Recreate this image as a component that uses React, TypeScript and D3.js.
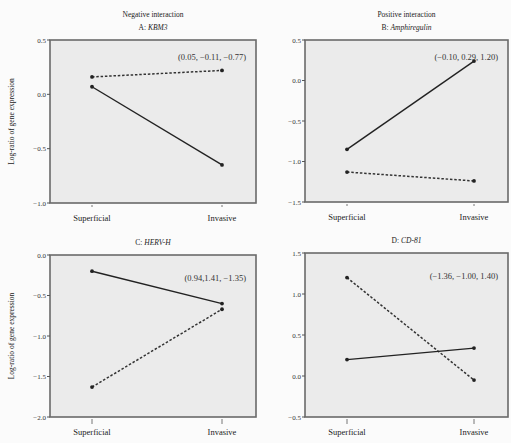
import React from "react";
import * as d3 from "d3";

const categories = ["Superficial", "Invasive"];
const panelTitles = [
  ["Negative interaction", "A: ", "KBM3"],
  ["Positive interaction", "B: ", "Amphiregulin"],
  ["", "C: ", "HERV-H"],
  ["", "D: ", "CD-81"],
];
const annotations = [
  "(0.05, \u22120.11, \u22120.77)",
  "(\u22120.10, 0.29, 1.20)",
  "(0.94,1.41, \u22121.35)",
  "(\u22121.36, \u22121.00, 1.40)",
];
const yDomains: [number, number][] = [
  [-1.0, 0.5],
  [-1.5, 0.5],
  [-2.0, 0.0],
  [-0.5, 1.5],
];
const yTickValues = [
  [-1.0, -0.5, 0.0, 0.5],
  [-1.5, -1.0, -0.5, 0.0, 0.5],
  [-2.0, -1.5, -1.0, -0.5, 0.0],
  [-0.5, 0.0, 0.5, 1.0, 1.5],
];
const solidSeries = [
  [0.07, -0.65],
  [-0.85, 0.24],
  [-0.2, -0.6],
  [0.2, 0.34],
];
const dashedSeries = [
  [0.16, 0.22],
  [-1.13, -1.24],
  [-1.63, -0.67],
  [1.2, -0.05],
];

const boxes = [
  { x: 50, y: 40, w: 206, h: 163 },
  { x: 305, y: 40, w: 203, h: 162 },
  { x: 50, y: 255, w: 206, h: 162 },
  { x: 305, y: 253, w: 203, h: 164 },
];

const fmt = (v: number) => (v < 0 ? "\u2212" : "") + Math.abs(v).toFixed(1);

function Panel({ i }: { i: number }) {
  const b = boxes[i];
  const x = d3
    .scalePoint<string>()
    .domain(categories)
    .range([b.x + 42, b.x + b.w - 34]);
  const y = d3.scaleLinear().domain(yDomains[i]).range([b.y + b.h, b.y]);
  const line = d3
    .line<number>()
    .x((_, k) => x(categories[k]) as number)
    .y((d) => y(d));
  const [t1, prefix, gene] = panelTitles[i];
  const cx = b.x + b.w / 2;
  const isLeft = i % 2 === 0;
  const top = i < 2;
  return (
    <g>
      <rect x={b.x} y={b.y} width={b.w} height={b.h} fill="#ebebeb" stroke="#6a6a6a" strokeWidth={1.6} />
      {t1 && (
        <text x={cx} y={b.y - 23} textAnchor="middle" fontSize={7.5} fill="#222">
          {t1}
        </text>
      )}
      <text x={cx} y={b.y - 10} textAnchor="middle" fontSize={7.5} fill="#222">
        {prefix}
        <tspan fontStyle="italic">{gene}</tspan>
      </text>
      {yTickValues[i].map((t) => (
        <g key={t}>
          <line x1={b.x - 3} x2={b.x} y1={y(t)} y2={y(t)} stroke="#555" strokeWidth={1} />
          <text x={b.x - 4} y={y(t) + 2.5} textAnchor="end" fontSize={7} fill="#333">
            {fmt(t)}
          </text>
        </g>
      ))}
      {categories.map((c) => (
        <g key={c}>
          <line
            x1={x(c)}
            x2={x(c)}
            y1={b.y + b.h + 2}
            y2={b.y + b.h + (top ? 4 : 7)}
            stroke="#555"
            strokeWidth={0.8}
          />
          <text x={x(c)} y={b.y + b.h + 18} textAnchor="middle" fontSize={8.5} fill="#222">
            {c}
          </text>
        </g>
      ))}
      {isLeft && (
        <text
          transform={`translate(${14},${b.y + b.h / 2}) rotate(-90)`}
          textAnchor="middle"
          fontSize={7.5}
          fill="#222"
        >
          Log-ratio of gene expression
        </text>
      )}
      <path d={line(dashedSeries[i]) as string} fill="none" stroke="#333" strokeWidth={1.5} strokeDasharray="2.5,1.8" />
      <path d={line(solidSeries[i]) as string} fill="none" stroke="#222" strokeWidth={1.4} />
      {[...dashedSeries[i], ...solidSeries[i]].map((v, k) => (
        <circle key={k} cx={x(categories[k % 2]) as number} cy={y(v)} r={1.9} fill="#222" />
      ))}
      <text x={b.x + b.w - 10} y={b.y + (top ? 20 : 26)} textAnchor="end" fontSize={8.5} fill="#333">
        {annotations[i]}
      </text>
    </g>
  );
}

export default function App() {
  return (
    <svg
      width={511}
      height={443}
      style={{ position: "absolute", left: 0, top: 0, fontFamily: "'Liberation Serif', 'DejaVu Serif', serif" }}
    >
      <rect x={0} y={0} width={511} height={443} fill="#fbfbfb" />
      {boxes.map((_, i) => (
        <Panel key={i} i={i} />
      ))}
    </svg>
  );
}
